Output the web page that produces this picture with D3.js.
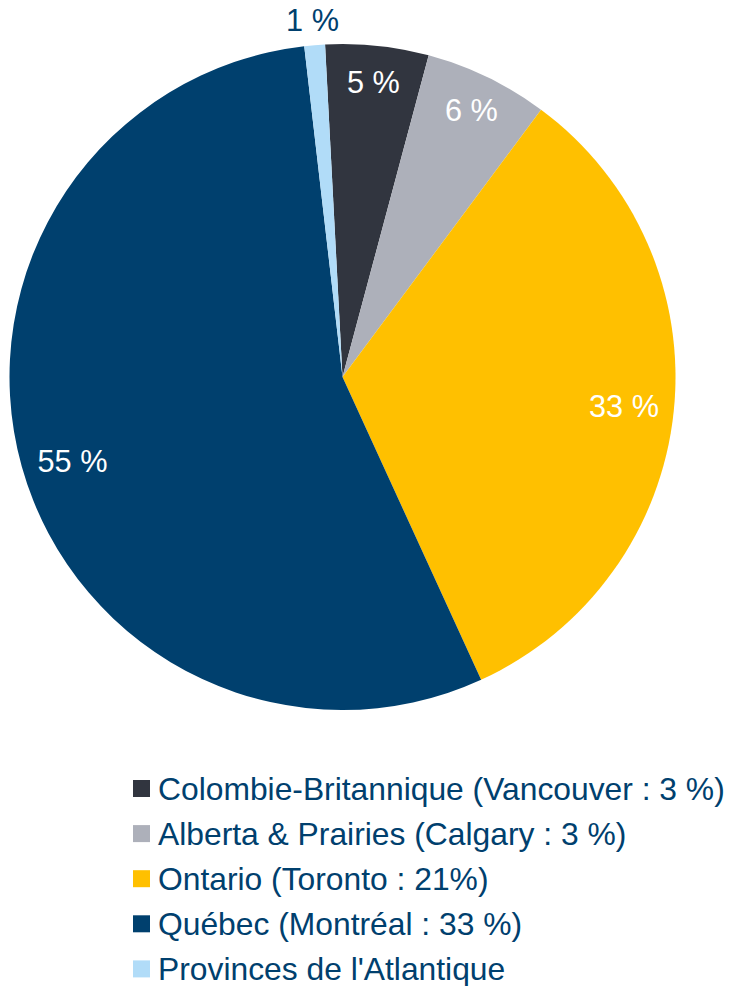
<!DOCTYPE html>
<html>
<head>
<meta charset="utf-8">
<script src="https://cdn.jsdelivr.net/npm/d3@7"></script>
<style>
  body { margin: 0; background: #ffffff; }
  svg { display: block; font-family: "Liberation Sans", Arial, sans-serif; }
</style>
</head>
<body>
<div id="chart"></div>
<script>
// regions, in the order of the legend
var regions = ["Colombie-Britannique (Vancouver : 3 %)", "Alberta & Prairies (Calgary : 3 %)",
	"Ontario (Toronto : 21%)", "Québec (Montréal : 33 %)", "Provinces de l'Atlantique"];
var shares = [5, 6, 33, 55, 1];
var colors = ["#31353f", "#adb0ba", "#ffc000", "#00406e", "#b1dcf8"];

var width = 729, height = 986;
var cx = 342.5, cy = 377, radius = 333;
var textColor = "#00406e";

var svg = d3.select("#chart")
	.append("svg")
	.attr("width", width)
	.attr("height", height);

var g = svg.append("g")
	.attr("transform", "translate(" + cx + "," + cy + ")");

// first slice starts a little left of twelve o'clock
var offset = -3 * Math.PI / 180;
var pie = d3.pie()
	.sort(null)
	.value(function(d) { return d; })
	.startAngle(offset)
	.endAngle(offset + 2 * Math.PI);

var arcs = pie(shares);

var arc = d3.arc()
	.innerRadius(0)
	.outerRadius(radius);

g.selectAll("path")
	.data(arcs)
	.enter()
	.append("path")
	.attr("d", arc)
	.style("fill", function(d, i) { return colors[i]; });

// labels inside the slices, the tiny one goes outside
function labelPos(d) {
	var a = (d.startAngle + d.endAngle) / 2;
	var r = 283;
	if (d.data < 3) r = 358;
	else if (d.data < 20) r = 296;
	if (d.data > 50) a -= 1.8 * Math.PI / 180;
	return [r * Math.sin(a), -r * Math.cos(a)];
}

g.selectAll("text.lab")
	.data(arcs)
	.enter()
	.append("text")
	.attr("class", "lab")
	.attr("transform", function(d) {
		var p = labelPos(d);
		return "translate(" + p[0] + "," + p[1] + ")";
	})
	.attr("text-anchor", "middle")
	.attr("dy", "0.35em")
	.style("font-size", "30.7px")
	.style("fill", function(d) { return d.data < 3 ? textColor : "#ffffff"; })
	.text(function(d) { return d.data + " %"; });

// legend
var legend = svg.append("g")
	.attr("transform", "translate(133,788.5)");

var rows = legend.selectAll("g")
	.data(regions)
	.enter()
	.append("g")
	.attr("transform", function(d, i) { return "translate(0," + (i * 45.1) + ")"; });

rows.append("rect")
	.attr("x", 0)
	.attr("y", -8.5)
	.attr("width", 17)
	.attr("height", 17)
	.style("fill", function(d, i) { return colors[i]; });

rows.append("text")
	.attr("x", 25)
	.attr("dy", "0.35em")
	.style("font-size", "31.8px")
	.style("fill", textColor)
	.text(function(d) { return d; });
</script>
</body>
</html>
